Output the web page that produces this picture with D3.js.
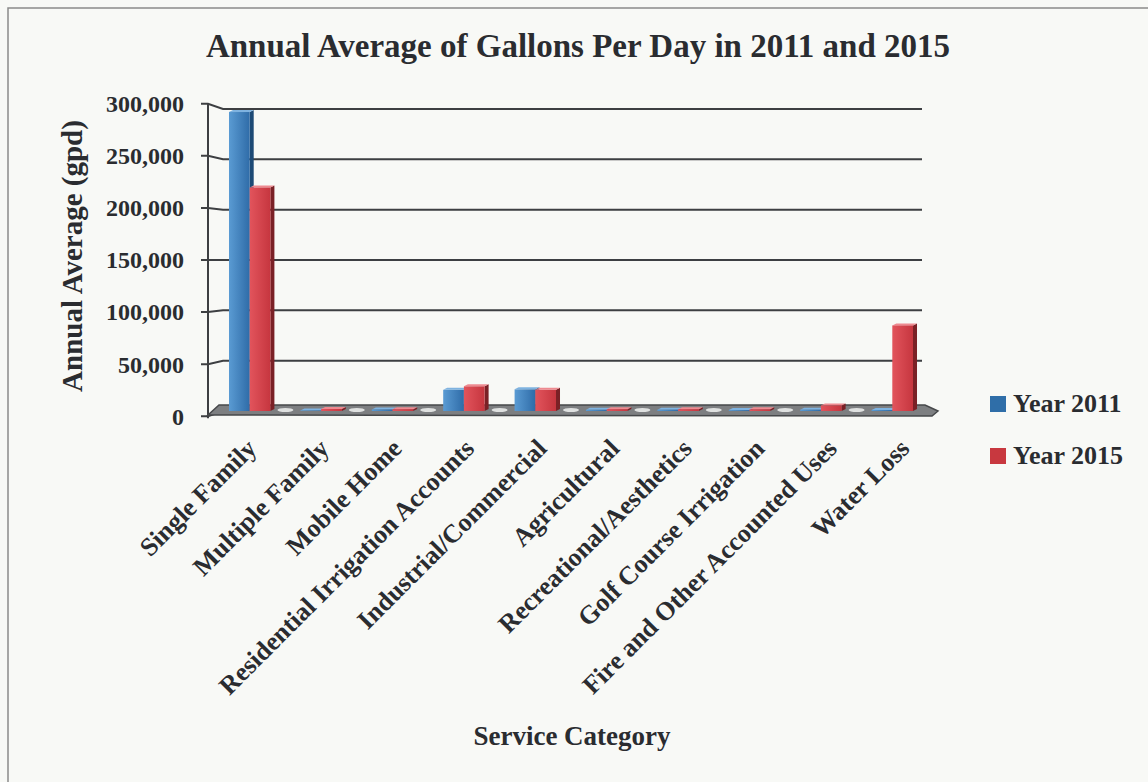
<!DOCTYPE html>
<html>
<head>
<meta charset="utf-8">
<script src="https://cdn.jsdelivr.net/npm/d3@7"></script>
<style>
  html, body { margin: 0; padding: 0; background: #f8f9f6; }
  svg { display: block; }
  text { font-family: 'Liberation Serif', 'DejaVu Serif', serif; font-weight: bold; fill: #2a2c30; }
</style>
</head>
<body>
<div id="chart"></div>
<script>
// data ------------------------------------------------------------
const categories = ['Single Family', 'Multiple Family', 'Mobile Home', 'Residential Irrigation Accounts',
  'Industrial/Commercial', 'Agricultural', 'Recreational/Aesthetics', 'Golf Course Irrigation',
  'Fire and Other Accounted Uses', 'Water Loss'];
const seriesNames = ['Year 2011', 'Year 2015'];
const values2011 = [297000, 500, 1500, 21000, 21500, 1200, 1300, 900, 1300, 1000];
const values2015 = [222000, 2000, 1800, 24500, 21000, 1800, 1800, 1700, 5500, 85000];
const yTicks = [0, 50000, 100000, 150000, 200000, 250000, 300000];

const W = 1148, H = 782;
const svg = d3.select('#chart').append('svg').attr('width', W).attr('height', H);

// gradients for the bar faces
const defs = svg.append('defs');
const grad = (id, c1, c2) => {
  const g = defs.append('linearGradient').attr('id', id).attr('x1', 0).attr('x2', 1).attr('y1', 0).attr('y2', 0);
  g.append('stop').attr('offset', '0%').attr('stop-color', c1);
  g.append('stop').attr('offset', '100%').attr('stop-color', c2);
};
grad('gBlue', '#5a9bd3', '#2f6ca8');
grad('gRed', '#e2545c', '#c6363f');
const faces = {
  'Year 2011': { front: 'url(#gBlue)', side: '#1d4a75', top: '#7fb3e0', key: '#2f6ea8' },
  'Year 2015': { front: 'url(#gRed)', side: '#7a2126', top: '#ee8a90', key: '#c8383f' }
};

// frame (only left and top edge show in the picture)
svg.append('path').attr('d', 'M8,' + H + ' V8 H' + W)
  .attr('fill', 'none').attr('stroke', '#8a8a8a').attr('stroke-width', 1.5);

// scales ------------------------------------------------------------
const y = d3.scaleLinear().domain([0, 300000]).range([411, 109]);
const x0 = d3.scaleBand().domain(categories).range([214, 928]).paddingInner(0.42).paddingOuter(0.21);
const x1 = d3.scaleBand().domain(seriesNames).range([0, x0.bandwidth()]);
const xLab = d3.scalePoint().domain(categories).range([258, 911]);

const axisX = 208, wallX = 223, wallEnd = 922, vp = 260;
const yLeft = v => vp + (y(v) - vp) * 1.035;

// back wall grid + left axis
const grid = svg.append('g').attr('stroke', '#3d3f42').attr('stroke-width', 2).attr('fill', 'none');
grid.selectAll('path.g').data(yTicks).enter().append('path')
  .attr('d', d => `M${axisX - 7},${yLeft(d)} H${axisX} L${wallX},${y(d)} H${wallEnd}`);
grid.append('line')
  .attr('x1', axisX).attr('x2', axisX)
  .attr('y1', yLeft(300000)).attr('y2', yLeft(0) + 2);

svg.append('g').selectAll('text').data(yTicks).enter().append('text')
  .attr('x', 184)
  .attr('y', d => yLeft(d))
  .attr('dy', '0.35em')
  .attr('text-anchor', 'end')
  .style('font-size', '24px')
  .text(d => d3.format(',')(d));

// floor slab
svg.append('path')
  .attr('d', `M${axisX},${y(0) + 4} L${wallX - 4},${y(0) - 6} H${wallEnd + 3} L938,${y(0)} L932,${y(0) + 5} Z`)
  .attr('fill', '#7d7f81').attr('stroke', '#46484a').attr('stroke-width', 1.5);
svg.append('g').selectAll('ellipse').data(categories.slice(0, -1)).enter().append('ellipse')
  .attr('cx', d => x0(d) + x0.bandwidth() + x0.step() * 0.21)
  .attr('cy', y(0) - 1)
  .attr('rx', 8).attr('ry', 2)
  .attr('fill', '#dfe1e0');

// bars --------------------------------------------------------------
const rows = categories.map((c, i) => ({
  cat: c,
  bars: [{ s: 'Year 2011', v: values2011[i] }, { s: 'Year 2015', v: values2015[i] }]
}));
const sd = 4, sdy = 2, base = y(0);

const groups = svg.append('g').selectAll('g').data(rows).enter().append('g')
  .attr('transform', d => `translate(${x0(d.cat)},0)`);

const bar = groups.selectAll('g').data(d => d.bars).enter().append('g');
bar.append('path')
  .attr('d', d => {
    const x = x1(d.s) + x1.bandwidth(), t = y(d.v);
    return `M${x},${t} L${x + sd},${t - sdy} V${base - sdy} L${x},${base} Z`;
  })
  .attr('fill', d => faces[d.s].side);
bar.append('path')
  .attr('d', d => {
    const x = x1(d.s), w = x1.bandwidth(), t = y(d.v);
    return `M${x},${t} L${x + sd},${t - sdy} H${x + w + sd} L${x + w},${t} Z`;
  })
  .attr('fill', d => faces[d.s].top);
bar.append('rect')
  .attr('x', d => x1(d.s))
  .attr('y', d => y(d.v))
  .attr('width', x1.bandwidth())
  .attr('height', d => base - y(d.v))
  .attr('fill', d => faces[d.s].front);

// category labels
svg.append('g').selectAll('text').data(categories).enter().append('text')
  .attr('transform', d => `translate(${xLab(d)},450) rotate(-45)`)
  .attr('text-anchor', 'end')
  .style('font-size', '26px')
  .text(d => d);

// titles
svg.append('text')
  .attr('x', 578).attr('y', 57)
  .attr('text-anchor', 'middle')
  .style('font-size', '33px')
  .text('Annual Average of Gallons Per Day in 2011 and 2015');

svg.append('text')
  .attr('transform', 'translate(82,256) rotate(-90)')
  .attr('text-anchor', 'middle')
  .style('font-size', '29px')
  .text('Annual Average (gpd)');

svg.append('text')
  .attr('x', 572).attr('y', 745)
  .attr('text-anchor', 'middle')
  .style('font-size', '27px')
  .text('Service Category');

// legend
const legend = svg.append('g').selectAll('g').data(seriesNames).enter().append('g')
  .attr('transform', (d, i) => `translate(990,${396 + i * 52})`);
legend.append('rect').attr('width', 16).attr('height', 16).attr('fill', d => faces[d].key);
legend.append('text').attr('x', 23).attr('y', 16).style('font-size', '26px').text(d => d);
</script>
</body>
</html>
